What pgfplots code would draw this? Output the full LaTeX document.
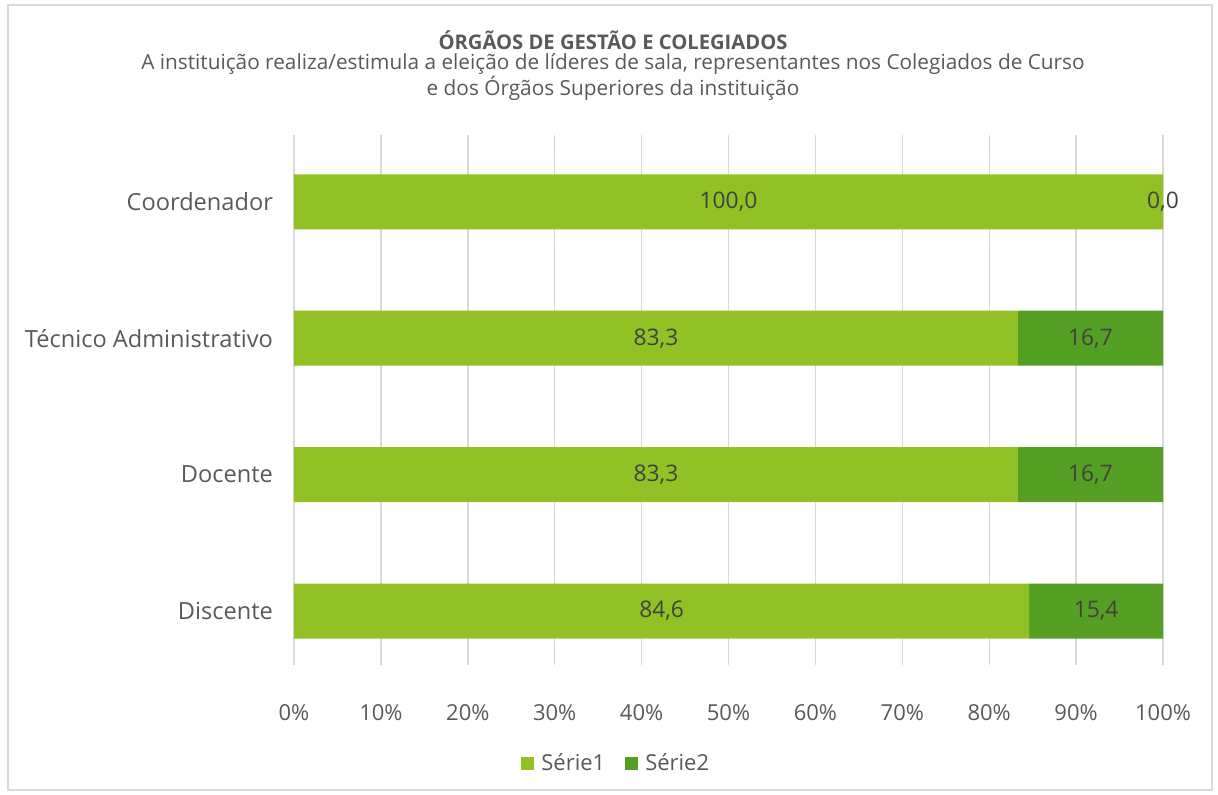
\documentclass[border=0pt]{standalone}
\usepackage{fontspec}
\setmainfont{Open Sans}
\usepackage{pgfplots}
\pgfplotsset{compat=1.18}
\definecolor{gA}{HTML}{92C125}
\definecolor{gB}{HTML}{55A024}
\definecolor{txt}{HTML}{595959}
\definecolor{lab}{HTML}{404040}
\definecolor{grd}{HTML}{D9D9D9}
\begin{document}
\begin{tikzpicture}[x=0.5pt,y=0.5pt]
% frame and bounding box (pixel units relative to axis origin at px (294,665))
\path (-294,-129) rectangle (924,665);
\draw[grd, line width=0.6pt] (-286,-125) rectangle (918,660);
\begin{axis}[
  at={(0,0)}, anchor=south west,
  scale only axis, width=434.5pt, height=265pt,
  xbar stacked, bar width=27.5pt,
  xmin=0, xmax=100, ymin=-0.396, ymax=3.49,
  axis line style={draw=none},
  xtick={0,10,...,100},
  xticklabel={\pgfmathprintnumber{\tick}\%},
  xticklabel style={font=\fontsize{11}{13}\selectfont, text=txt, yshift=-16pt},
  ytick={0,1,2,3},
  yticklabels={Discente,Docente,Técnico Administrativo,Coordenador},
  yticklabel style={font=\fontsize{11.8}{14}\selectfont, text=txt, xshift=-7pt},
  major tick length=0pt,
  xmajorgrids, grid style={grd, line width=0.7pt},
  /pgf/number format/assume math mode=true,
  legend style={at={(0.372,-0.186)}, anchor=center, draw=none, font=\fontsize{11}{13}\selectfont, text=txt, column sep=0pt, /tikz/every even column/.append style={column sep=8pt}},
  legend columns=2,
  legend image code/.code={\fill[#1] (0pt,-3pt) rectangle (6.5pt,3.5pt); \path (8pt,0pt);},
]
\addplot[fill=gA, draw=none] coordinates {(84.6,0) (83.3,1) (83.3,2) (100,3)};
\addplot[fill=gB, draw=none] coordinates {(15.4,0) (16.7,1) (16.7,2) (0,3)};
\legend{Série1,Série2}
\end{axis}
\begin{axis}[
  at={(0,0)}, anchor=south west,
  scale only axis, width=434.5pt, height=265pt,
  xmin=0, xmax=100, ymin=-0.396, ymax=3.49,
  axis lines=none,
  nodes near coords, point meta=explicit symbolic,
  every node near coord/.append style={anchor=center, font=\fontsize{11.4}{13}\selectfont, text=lab},
]
\addplot[draw=none, mark=none] coordinates {(42.3,0)[84,6] (41.65,1)[83,3] (41.65,2)[83,3] (50,3)[100,0]};
\addplot[draw=none, mark=none] coordinates {(92.3,0)[15,4] (91.65,1)[16,7] (91.65,2)[16,7] (100,3)[0,0]};
\end{axis}
\node[font=\bfseries\fontsize{10.1}{12}\selectfont, text=txt] at (319,625) {ÓRGÃOS DE GESTÃO E COLEGIADOS};
\node[font=\fontsize{10.4}{12}\selectfont, text=txt, align=center] at (319,588) {A instituição realiza/estimula a eleição de líderes de sala, representantes nos Colegiados de Curso\\e dos Órgãos Superiores da instituição};
\end{tikzpicture}
\end{document}
